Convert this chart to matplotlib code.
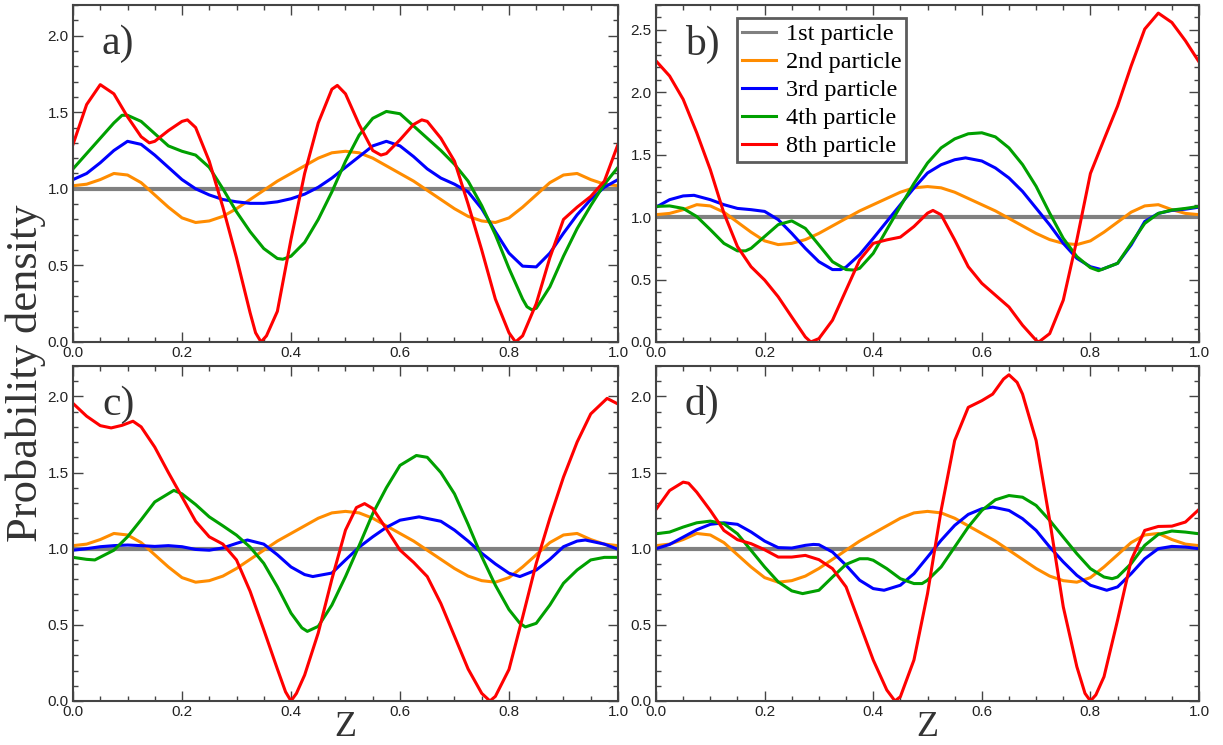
import matplotlib
matplotlib.use('Agg')
from matplotlib import pyplot as plt
from matplotlib.ticker import MultipleLocator, FormatStrFormatter

# 1st particle: flat density
z_flat = [0.0, 1.0]
p1 = [1.0, 1.0]

# 2nd particle (same curve in every panel)
z_p2 = [0.0, 0.025, 0.05, 0.075, 0.1, 0.125, 0.15, 0.175, 0.2, 0.225, 0.25, 0.275, 0.3, 0.325, 0.35, 0.375, 0.4, 0.425, 0.45, 0.475, 0.5,
        0.525, 0.55, 0.575, 0.6, 0.625, 0.65, 0.675, 0.7, 0.725, 0.75, 0.775, 0.8, 0.825, 0.85, 0.875, 0.9, 0.925, 0.95, 0.975, 1.0]
p2 = [1.02, 1.03, 1.06, 1.10, 1.09, 1.04, 0.96, 0.88, 0.81, 0.78, 0.79, 0.82, 0.87, 0.93, 0.99, 1.05, 1.10, 1.15, 1.20, 1.235, 1.245,
      1.235, 1.20, 1.15, 1.10, 1.05, 0.99, 0.93, 0.87, 0.82, 0.79, 0.78, 0.81, 0.88, 0.96, 1.04, 1.09, 1.10, 1.06, 1.03, 1.02]

# panel a)
za_3 = [0.0, 0.025, 0.05, 0.075, 0.1, 0.125, 0.15, 0.175, 0.2, 0.225, 0.25, 0.275, 0.3, 0.325, 0.35, 0.375, 0.4, 0.425, 0.45, 0.475, 0.5,
        0.525, 0.55, 0.575, 0.6, 0.625, 0.65, 0.675, 0.7, 0.725, 0.75, 0.775, 0.8, 0.825, 0.85, 0.875, 0.9, 0.925, 0.95, 0.975, 1.0]
pa_3 = [1.06, 1.10, 1.17, 1.25, 1.31, 1.29, 1.22, 1.14, 1.06, 1.00, 0.96, 0.93, 0.915, 0.905, 0.905, 0.915, 0.935, 0.965, 1.01, 1.07, 1.14,
        1.21, 1.28, 1.31, 1.28, 1.21, 1.13, 1.07, 1.03, 0.98, 0.87, 0.72, 0.58, 0.495, 0.49, 0.58, 0.71, 0.83, 0.93, 1.01, 1.06]
za_4 = [0.0, 0.025, 0.05, 0.075, 0.09, 0.1, 0.125, 0.15, 0.175, 0.2, 0.225, 0.25, 0.275, 0.3, 0.325, 0.35, 0.375, 0.385, 0.4, 0.425, 0.45,
        0.475, 0.5, 0.525, 0.55, 0.575, 0.6, 0.625, 0.65, 0.675, 0.7, 0.725, 0.75, 0.775, 0.8, 0.825, 0.833, 0.842, 0.85, 0.875, 0.9, 0.925,
        0.95, 0.975, 1.0]
pa_4 = [1.13, 1.23, 1.33, 1.43, 1.48, 1.48, 1.44, 1.36, 1.28, 1.245, 1.22, 1.14, 1.00, 0.85, 0.72, 0.61, 0.545, 0.54, 0.56, 0.65, 0.80,
        0.98, 1.18, 1.35, 1.46, 1.505, 1.49, 1.41, 1.33, 1.25, 1.16, 1.05, 0.89, 0.70, 0.48, 0.28, 0.23, 0.21, 0.22, 0.36, 0.56, 0.74,
        0.89, 1.03, 1.14]
za_8 = [0.0, 0.025, 0.05, 0.075, 0.1, 0.125, 0.14, 0.15, 0.175, 0.2, 0.21, 0.225, 0.25, 0.275, 0.3, 0.325, 0.335, 0.345, 0.355, 0.375,
        0.4, 0.425, 0.45, 0.475, 0.485, 0.5, 0.525, 0.55, 0.565, 0.575, 0.6, 0.625, 0.64, 0.65, 0.675, 0.7, 0.725, 0.75, 0.775, 0.8,
        0.812, 0.825, 0.85, 0.875, 0.9, 0.925, 0.95, 0.975, 1.0]
pa_8 = [1.29, 1.55, 1.68, 1.62, 1.47, 1.34, 1.30, 1.31, 1.38, 1.44, 1.45, 1.40, 1.18, 0.88, 0.55, 0.19, 0.06, 0.0, 0.04, 0.20,
        0.67, 1.10, 1.43, 1.65, 1.675, 1.62, 1.42, 1.25, 1.22, 1.23, 1.32, 1.42, 1.45, 1.44, 1.33, 1.18, 0.90, 0.60, 0.28, 0.06,
        0.0, 0.04, 0.25, 0.55, 0.80, 0.88, 0.95, 1.05, 1.29]

# panel b)
zb_3 = [0.0, 0.025, 0.05, 0.07, 0.1, 0.125, 0.15, 0.175, 0.2, 0.225, 0.25, 0.275, 0.3, 0.325, 0.34, 0.35, 0.375, 0.4, 0.425, 0.45,
        0.475, 0.5, 0.525, 0.55, 0.57, 0.6, 0.625, 0.65, 0.675, 0.7, 0.725, 0.75, 0.775, 0.8, 0.82, 0.85, 0.875, 0.9, 0.925, 0.95,
        0.975, 1.0]
pb_3 = [1.08, 1.14, 1.17, 1.175, 1.14, 1.10, 1.07, 1.06, 1.046, 0.98, 0.87, 0.75, 0.643, 0.58, 0.58, 0.60, 0.70, 0.83, 0.965, 1.10,
        1.233, 1.354, 1.42, 1.46, 1.475, 1.45, 1.394, 1.314, 1.206, 1.072, 0.938, 0.79, 0.67, 0.603, 0.58, 0.63, 0.777, 0.965, 1.03, 1.054,
        1.064, 1.08]
zb_4 = [0.0, 0.025, 0.05, 0.075, 0.1, 0.125, 0.15, 0.165, 0.175, 0.2, 0.225, 0.25, 0.275, 0.3, 0.325, 0.35, 0.365, 0.375, 0.4, 0.425,
        0.45, 0.475, 0.5, 0.525, 0.55, 0.575, 0.6, 0.625, 0.65, 0.675, 0.7, 0.725, 0.75, 0.775, 0.8, 0.815, 0.85, 0.875, 0.9, 0.925,
        0.95, 0.975, 1.0]
pb_4 = [1.086, 1.09, 1.07, 1.005, 0.90, 0.79, 0.73, 0.73, 0.75, 0.845, 0.94, 0.97, 0.91, 0.777, 0.643, 0.58, 0.576, 0.59, 0.71, 0.90,
        1.086, 1.27, 1.434, 1.555, 1.627, 1.668, 1.676, 1.643, 1.555, 1.421, 1.247, 1.032, 0.83, 0.684, 0.595, 0.571, 0.63, 0.79, 0.95, 1.03,
        1.057, 1.07, 1.086]
zb_8 = [0.0, 0.025, 0.05, 0.075, 0.1, 0.125, 0.15, 0.175, 0.2, 0.225, 0.25, 0.275, 0.285, 0.3, 0.325, 0.35, 0.375, 0.4, 0.425, 0.45,
        0.475, 0.5, 0.51, 0.525, 0.55, 0.575, 0.6, 0.625, 0.65, 0.675, 0.7, 0.705, 0.725, 0.75, 0.775, 0.8, 0.825, 0.85, 0.875, 0.9,
        0.925, 0.95, 0.975, 1.0]
pb_8 = [2.252, 2.131, 1.944, 1.676, 1.38, 1.032, 0.764, 0.603, 0.496, 0.362, 0.20, 0.04, 0.0, 0.027, 0.174, 0.416, 0.657, 0.79, 0.818, 0.84,
        0.925, 1.032, 1.054, 1.019, 0.818, 0.603, 0.47, 0.375, 0.28, 0.134, 0.013, 0.0, 0.067, 0.335, 0.818, 1.35, 1.622, 1.89, 2.212, 2.507,
        2.635, 2.56, 2.413, 2.244]

# panel c)
zc_3 = [0.0, 0.025, 0.05, 0.075, 0.1, 0.125, 0.15, 0.175, 0.2, 0.225, 0.25, 0.275, 0.3, 0.32, 0.35, 0.375, 0.4, 0.425, 0.44, 0.475,
        0.5, 0.525, 0.55, 0.575, 0.6, 0.635, 0.675, 0.7, 0.725, 0.75, 0.775, 0.8, 0.82, 0.85, 0.875, 0.9, 0.925, 0.94, 0.975, 1.0]
pc_3 = [0.99, 1.00, 1.013, 1.02, 1.024, 1.02, 1.015, 1.02, 1.013, 0.995, 0.99, 1.005, 1.035, 1.057, 1.03, 0.96, 0.88, 0.83, 0.817, 0.84,
        0.926, 1.01, 1.078, 1.14, 1.187, 1.209, 1.18, 1.122, 1.05, 0.97, 0.90, 0.839, 0.817, 0.86, 0.93, 1.013, 1.05, 1.057, 1.03, 0.996]
zc_4 = [0.0, 0.025, 0.04, 0.075, 0.1, 0.125, 0.15, 0.185, 0.2, 0.225, 0.25, 0.275, 0.3, 0.325, 0.35, 0.375, 0.4, 0.42, 0.43, 0.45,
        0.475, 0.5, 0.525, 0.55, 0.575, 0.6, 0.63, 0.65, 0.675, 0.7, 0.725, 0.75, 0.775, 0.8, 0.82, 0.83, 0.85, 0.875, 0.9, 0.925, 0.95,
        0.975, 1.0]
pc_4 = [0.943, 0.93, 0.926, 0.99, 1.078, 1.19, 1.307, 1.383, 1.36, 1.29, 1.209, 1.15, 1.089, 1.01, 0.904, 0.75, 0.577, 0.48, 0.457, 0.49,
        0.63, 0.817, 1.02, 1.23, 1.40, 1.547, 1.612, 1.60, 1.50, 1.36, 1.16, 0.948, 0.76, 0.60, 0.51, 0.486, 0.51, 0.63, 0.773, 0.86, 0.926,
        0.943, 0.943]
zc_8 = [0.0, 0.025, 0.05, 0.07, 0.09, 0.11, 0.125, 0.15, 0.175, 0.2, 0.225, 0.25, 0.275, 0.3, 0.325, 0.35, 0.375, 0.39, 0.4, 0.41,
        0.425, 0.45, 0.475, 0.5, 0.52, 0.535, 0.55, 0.575, 0.6, 0.625, 0.65, 0.675, 0.7, 0.725, 0.75, 0.765, 0.775, 0.8, 0.825, 0.85,
        0.875, 0.9, 0.925, 0.95, 0.98, 1.0]
pc_8 = [1.954, 1.87, 1.808, 1.793, 1.81, 1.837, 1.80, 1.667, 1.50, 1.34, 1.18, 1.078, 1.03, 0.926, 0.72, 0.468, 0.21, 0.06, 0.0, 0.05,
        0.17, 0.447, 0.80, 1.122, 1.27, 1.296, 1.264, 1.13, 0.991, 0.91, 0.817, 0.64, 0.425, 0.21, 0.05, 0.0, 0.03, 0.207, 0.55, 0.904,
        1.20, 1.47, 1.70, 1.885, 1.987, 1.95]

# panel d)
zd_3 = [0.0, 0.025, 0.05, 0.075, 0.1, 0.125, 0.15, 0.175, 0.2, 0.225, 0.25, 0.275, 0.29, 0.3, 0.325, 0.35, 0.375, 0.4, 0.42, 0.45,
        0.475, 0.5, 0.525, 0.55, 0.575, 0.6, 0.62, 0.65, 0.675, 0.7, 0.725, 0.75, 0.775, 0.8, 0.83, 0.85, 0.875, 0.9, 0.925, 0.95,
        0.975, 1.0]
pd_3 = [1.0, 1.028, 1.076, 1.124, 1.16, 1.17, 1.16, 1.11, 1.05, 1.007, 1.004, 1.022, 1.028, 1.026, 0.978, 0.891, 0.793, 0.738, 0.727, 0.76,
        0.836, 0.945, 1.055, 1.153, 1.225, 1.262, 1.273, 1.251, 1.197, 1.12, 1.011, 0.913, 0.825, 0.76, 0.727, 0.749, 0.836, 0.934, 1.0, 1.015,
        1.011, 1.0]
zd_4 = [0.0, 0.025, 0.05, 0.075, 0.1, 0.125, 0.15, 0.175, 0.2, 0.225, 0.25, 0.27, 0.3, 0.325, 0.35, 0.375, 0.39, 0.4, 0.425, 0.45,
        0.475, 0.49, 0.5, 0.525, 0.55, 0.575, 0.6, 0.625, 0.65, 0.675, 0.7, 0.725, 0.75, 0.775, 0.8, 0.825, 0.84, 0.85, 0.875, 0.9,
        0.925, 0.95, 0.975, 1.0]
pd_4 = [1.098, 1.109, 1.142, 1.17, 1.181, 1.164, 1.098, 0.989, 0.88, 0.782, 0.723, 0.705, 0.727, 0.814, 0.897, 0.934, 0.934, 0.924, 0.869, 0.803,
        0.771, 0.771, 0.793, 0.88, 1.011, 1.142, 1.251, 1.321, 1.349, 1.338, 1.284, 1.186, 1.076, 0.967, 0.869, 0.814, 0.803, 0.814, 0.902, 1.022,
        1.094, 1.116, 1.109, 1.098]
zd_8 = [0.0, 0.025, 0.05, 0.06, 0.075, 0.1, 0.125, 0.15, 0.175, 0.2, 0.225, 0.25, 0.275, 0.3, 0.325, 0.35, 0.375, 0.4, 0.425, 0.44,
        0.45, 0.475, 0.5, 0.525, 0.55, 0.575, 0.6, 0.62, 0.64, 0.65, 0.665, 0.675, 0.7, 0.725, 0.75, 0.775, 0.79, 0.8, 0.81, 0.825,
        0.85, 0.875, 0.9, 0.925, 0.95, 0.975, 1.0]
pd_8 = [1.258, 1.382, 1.437, 1.43, 1.371, 1.251, 1.12, 1.059, 1.033, 0.993, 0.945, 0.945, 0.956, 0.928, 0.869, 0.749, 0.509, 0.269, 0.072, 0.0,
        0.028, 0.269, 0.705, 1.251, 1.71, 1.928, 1.972, 2.015, 2.114, 2.142, 2.092, 2.015, 1.71, 1.186, 0.618, 0.225, 0.05, 0.0, 0.04, 0.159,
        0.531, 0.924, 1.12, 1.146, 1.148, 1.175, 1.258]

labels = ['1st particle', '2nd particle', '3rd particle', '4th particle', '8th particle']
colors = ['#808080', '#FF8C00', '#0000FF', '#00A000', '#FF0000']

panels = [
    ('a)', (za_3, pa_3), (za_4, pa_4), (za_8, pa_8), 2.2),
    ('b)', (zb_3, pb_3), (zb_4, pb_4), (zb_8, pb_8), 2.7),
    ('c)', (zc_3, pc_3), (zc_4, pc_4), (zc_8, pc_8), 2.2),
    ('d)', (zd_3, pd_3), (zd_4, pd_4), (zd_8, pd_8), 2.2),
]

serif = 'Liberation Serif'
sans = 'Liberation Sans'
spine_col = '#444444'

fig = plt.figure(figsize=(12.23, 7.45), dpi=100)
rects = [
    [0.0597, 0.541, 0.4456, 0.4523],
    [0.5364, 0.541, 0.4440, 0.4523],
    [0.0597, 0.0591, 0.4456, 0.4497],
    [0.5364, 0.0591, 0.4440, 0.4497],
]

axes = []
for rect, (tag, s3, s4, s8, ymax) in zip(rects, panels):
    ax = fig.add_axes(rect)
    ax.plot(z_flat, p1, color=colors[0], lw=3.0, label=labels[0])
    ax.plot(z_p2, p2, color=colors[1], lw=2.2, label=labels[1])
    ax.plot(s3[0], s3[1], color=colors[2], lw=2.2, label=labels[2])
    ax.plot(s4[0], s4[1], color=colors[3], lw=2.2, label=labels[3])
    ax.plot(s8[0], s8[1], color=colors[4], lw=2.2, label=labels[4])
    ax.set_xlim(0, 1)
    ax.set_ylim(0, ymax)
    ax.xaxis.set_major_locator(MultipleLocator(0.2))
    ax.xaxis.set_minor_locator(MultipleLocator(0.05))
    ax.yaxis.set_major_locator(MultipleLocator(0.5))
    ax.yaxis.set_minor_locator(MultipleLocator(0.1))
    ax.xaxis.set_major_formatter(FormatStrFormatter('%.1f'))
    ax.yaxis.set_major_formatter(FormatStrFormatter('%.1f'))
    ax.tick_params(which='both', direction='in', top=True, right=True, color=spine_col, width=1.0)
    ax.tick_params(which='major', length=7, pad=3, labelsize=11, labelcolor='#222222')
    ax.tick_params(which='minor', length=3.5)
    for lab in ax.get_xticklabels() + ax.get_yticklabels():
        lab.set_family(sans)
    for sp in ax.spines.values():
        sp.set_color(spine_col)
        sp.set_linewidth(1.5)
    ax.text(0.053, 0.884, tag, transform=ax.transAxes, fontsize=30, family=serif,
            color='#333333', ha='left', va='center')
    axes.append(ax)

leg = axes[1].legend(loc='upper left', bbox_to_anchor=(0.149, 0.961), borderaxespad=0,
                     prop={'family': serif, 'size': 17.5}, frameon=True, fancybox=False,
                     handlelength=1.4, handletextpad=0.4, labelspacing=0.25, borderpad=0.2)
leg.get_frame().set_edgecolor('#333333')
leg.get_frame().set_linewidth(2.0)
for h in leg.get_lines():
    h.set_linewidth(2.2)

fig.text(0.021, 0.4993, 'Probability density', rotation=90, fontsize=32, family=serif,
         ha='center', va='center', color='#333333')
for ax in axes[2:]:
    pos = ax.get_position()
    fig.text(pos.x0 + pos.width / 2, 0.024, 'Z', fontsize=26, family=serif,
             ha='center', va='center', color='#333333')

fig.savefig('out.png', dpi=100)
